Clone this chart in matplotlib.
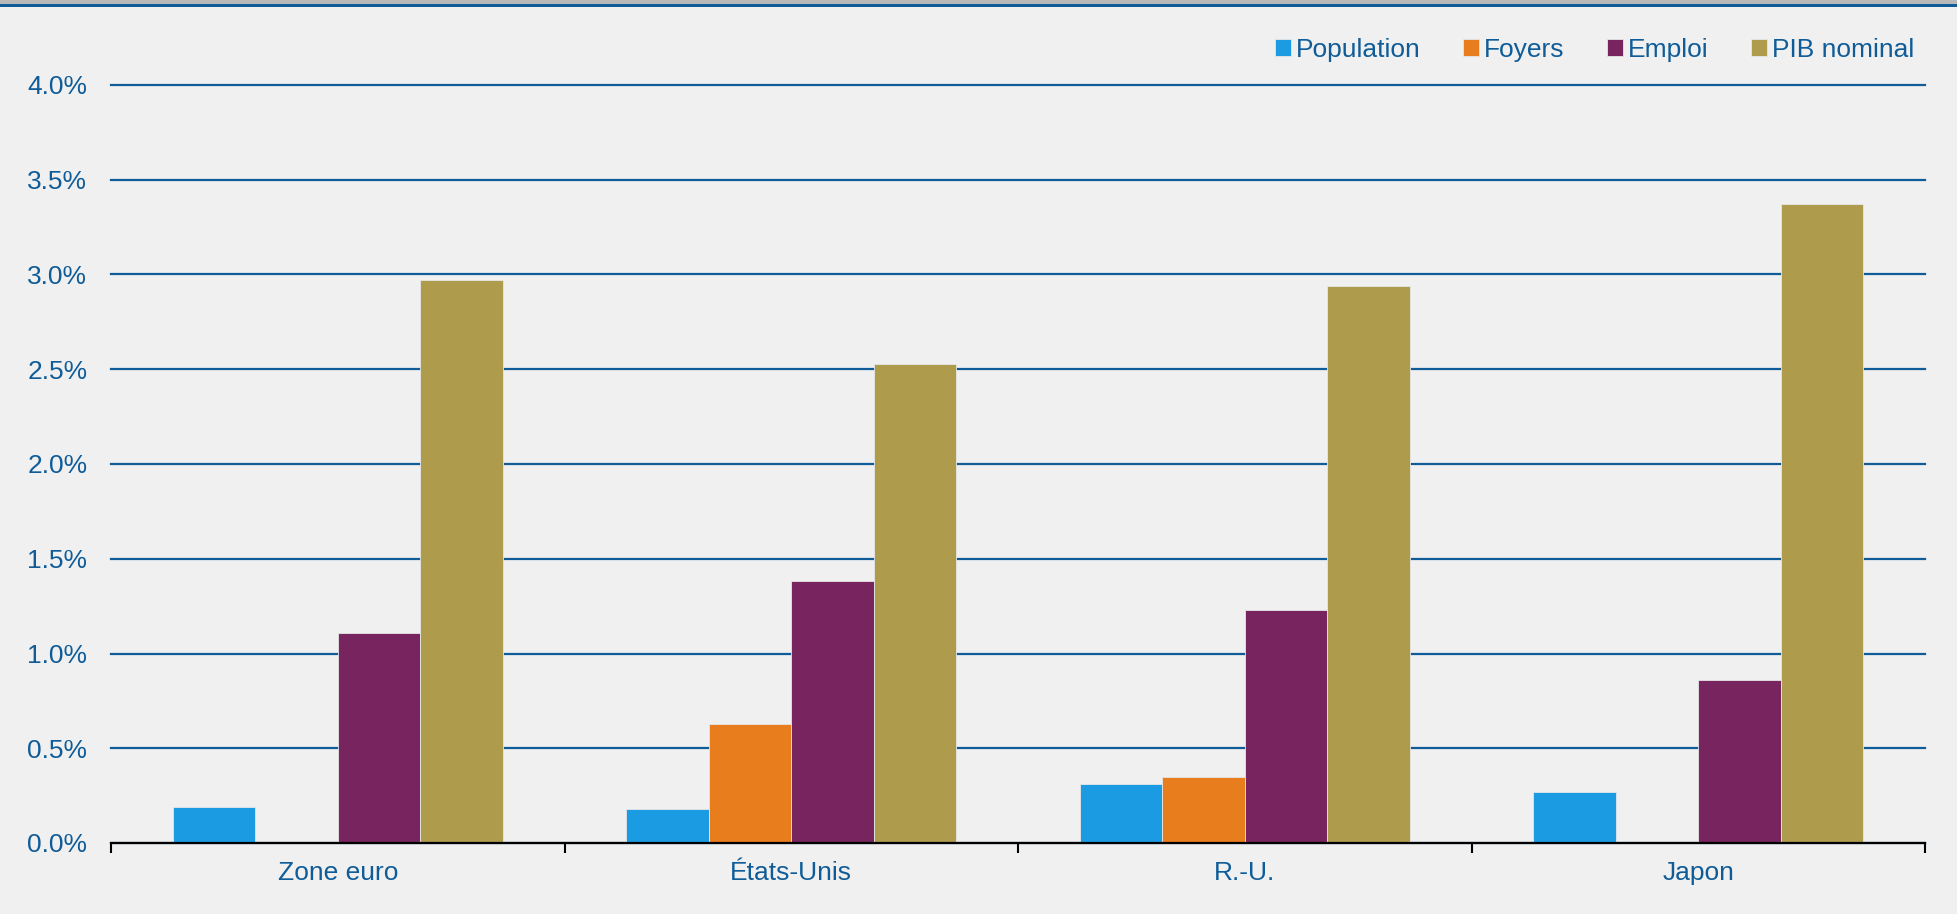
import numpy as np
import matplotlib
matplotlib.use("Agg")
import matplotlib.pyplot as plt
from matplotlib.patches import Rectangle

# data (% per year)
regions = ["Zone euro", "États-Unis", "R.-U.", "Japon"]
series = ["Population", "Foyers", "Emploi", "PIB nominal"]
population = [0.19, 0.18, 0.31, 0.27]
foyers = [0.0, 0.63, 0.35, 0.0]
emploi = [1.11, 1.38, 1.23, 0.86]
pib = [2.97, 2.53, 2.94, 3.37]
colors = ["#1b9ce2", "#e87d1e", "#78245e", "#ae9b4b"]

blue = "#0f5c98"
bg = "#f0f0f0"

plt.rcParams['font.family'] = ['Liberation Sans', 'DejaVu Sans']

fig = plt.figure(figsize=(19.57, 9.14), dpi=100, facecolor=bg)
ax = fig.add_axes([111 / 1957, 1 - 843 / 914, 1814 / 1957, 758 / 914])
ax.set_facecolor(bg)

# top band
fig.patches.append(Rectangle((0, 1 - 4 / 914), 1, 4 / 914, transform=fig.transFigure,
                             facecolor="#b8b8b8", edgecolor="none"))
fig.patches.append(Rectangle((0, 1 - 6.5 / 914), 1, 2.5 / 914, transform=fig.transFigure,
                             facecolor=blue, edgecolor="none"))

x = np.arange(len(regions))
w = 0.182
vals = [population, foyers, emploi, pib]
for i, (name, v, c) in enumerate(zip(series, vals, colors)):
    ax.bar(x + (i - 1.5) * w, v, w, color=c, label=name, zorder=3,
           edgecolor="#e6e6e6", linewidth=0.6)

ax.set_xlim(-0.5, len(regions) - 0.5)
ax.set_ylim(0, 4.0)
ax.set_yticks(np.arange(0, 4.01, 0.5))
ax.set_yticklabels(["%.1f%%" % t for t in np.arange(0, 4.01, 0.5)])
ax.yaxis.grid(True, color=blue, linewidth=1.6, zorder=0)
for gl in ax.yaxis.get_gridlines():
    gl.set_clip_on(False)
ax.tick_params(axis="y", length=0, labelsize=19, labelcolor=blue, pad=17)

ax.set_xticks(x)
ax.set_xticklabels(regions)
ax.set_xticks(np.arange(-0.5, len(regions)), minor=True)
ax.tick_params(axis="x", which="major", length=0, labelsize=19, labelcolor=blue, pad=13)
ax.tick_params(axis="x", which="minor", length=7, width=1.5, color="black")

for s in ["top", "right", "left"]:
    ax.spines[s].set_visible(False)
ax.spines["bottom"].set_color("black")
ax.spines["bottom"].set_linewidth(1.6)
ax.spines["bottom"].set_zorder(4)

leg = fig.legend(loc="center right", bbox_to_anchor=(1938 / 1957, 1 - 50 / 914), ncol=4,
                 frameon=False, fontsize=19, handlelength=0.6, handleheight=0.6,
                 handletextpad=0.2, columnspacing=1.6)
for t in leg.get_texts():
    t.set_color(blue)

fig.savefig("out.png", dpi=100, facecolor=bg)
